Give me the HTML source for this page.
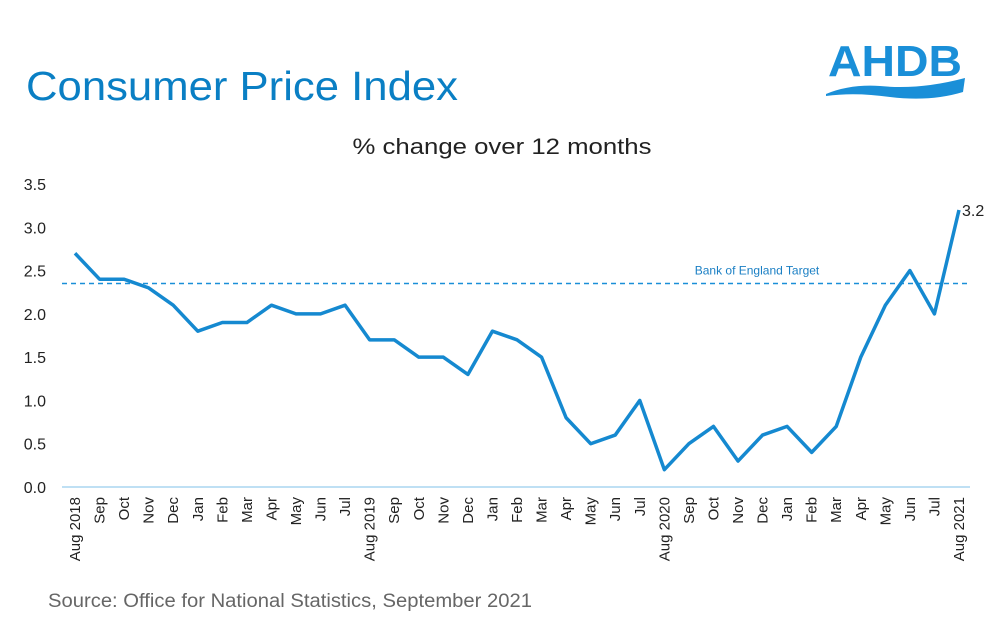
<!DOCTYPE html>
<html><head><meta charset="utf-8"><style>
body{margin:0;width:992px;height:623px;background:#fff;overflow:hidden;font-family:"Liberation Sans",sans-serif}
</style></head><body>
<svg width="992" height="623" viewBox="0 0 992 623" xmlns="http://www.w3.org/2000/svg">
<text x="26" y="100" font-size="41" fill="#0a7fc4" textLength="432" lengthAdjust="spacingAndGlyphs">Consumer Price Index</text>
<g>
<text x="828" y="76" font-size="44" font-weight="bold" fill="#1a8fd8" textLength="134" lengthAdjust="spacingAndGlyphs">AHDB</text>
<path d="M826 94 Q850 84 880 86 Q920 90 965 78 L963 92 Q930 102 890 97 Q855 92 826 96 Z" fill="#1a8fd8"/>
</g>
<text x="502" y="154" font-size="22" text-anchor="middle" fill="#222" textLength="299" lengthAdjust="spacingAndGlyphs">% change over 12 months</text>
<g id="yaxis"></g><g id="xaxis"></g><g id="plot"></g>
<text x="48" y="607" font-size="19" fill="#666" textLength="484" lengthAdjust="spacingAndGlyphs">Source: Office for National Statistics, September 2021</text>
</svg>
<script>
const categories=["Aug 2018","Sep","Oct","Nov","Dec","Jan","Feb","Mar","Apr","May","Jun","Jul","Aug 2019","Sep","Oct","Nov","Dec","Jan","Feb","Mar","Apr","May","Jun","Jul","Aug 2020","Sep","Oct","Nov","Dec","Jan","Feb","Mar","Apr","May","Jun","Jul","Aug 2021"];
const cpiValues=[2.7,2.4,2.4,2.3,2.1,1.8,1.9,1.9,2.1,2.0,2.0,2.1,1.7,1.7,1.5,1.5,1.3,1.8,1.7,1.5,0.8,0.5,0.6,1.0,0.2,0.5,0.7,0.3,0.6,0.7,0.4,0.7,1.5,2.1,2.5,2.0,3.2];
const yTicks=["0.0","0.5","1.0","1.5","2.0","2.5","3.0","3.5"];
const targetValue=2.35;
const targetLabel="Bank of England Target";
const NS="http://www.w3.org/2000/svg";
const X0=75,X1=959,Y0=487,Y1=184,YMAX=3.5;
function xs(i){return X0+(X1-X0)*i/(categories.length-1);}
function ys(v){return Y0-(Y0-Y1)*v/YMAX;}
function mk(t,a,p){const e=document.createElementNS(NS,t);for(const k in a)e.setAttribute(k,a[k]);p.appendChild(e);return e;}
const ya=document.getElementById('yaxis'),xa=document.getElementById('xaxis'),pl=document.getElementById('plot');
yTicks.forEach(t=>{const e=mk('text',{x:46,y:ys(+t)+6,'font-size':16,'text-anchor':'end',fill:'#222'},ya);e.textContent=t;

});
const ax=mk('line',{x1:62,x2:970,y1:Y0,y2:Y0,stroke:'#bfe0f4','stroke-width':2},xa);


categories.forEach((c,i)=>{const x=xs(i)+5;const e=mk('text',{x:x,y:497,'font-size':15,'text-anchor':'end',fill:'#222',transform:`rotate(-90 ${x} 497)`},xa);e.textContent=c;

});
const tl=mk('line',{x1:62,x2:970,y1:ys(targetValue),y2:ys(targetValue),stroke:'#1a8fd8','stroke-width':1.5,'stroke-dasharray':'5,4'},pl);


const tt=mk('text',{x:757,y:ys(targetValue)-9,'font-size':12,'text-anchor':'middle',fill:'#1a7fc4'},pl);tt.textContent=targetLabel;


const line=mk('polyline',{points:cpiValues.map((v,i)=>xs(i)+','+ys(v)).join(' '),fill:'none',stroke:'#1589d0','stroke-width':3.5,'stroke-linejoin':'round'},pl);


const n=cpiValues.length-1;
const lb=mk('text',{x:xs(n)+3,y:ys(cpiValues[n])+6,'font-size':16,fill:'#222'},pl);lb.textContent=cpiValues[n].toFixed(1);


</script>
</body></html>
